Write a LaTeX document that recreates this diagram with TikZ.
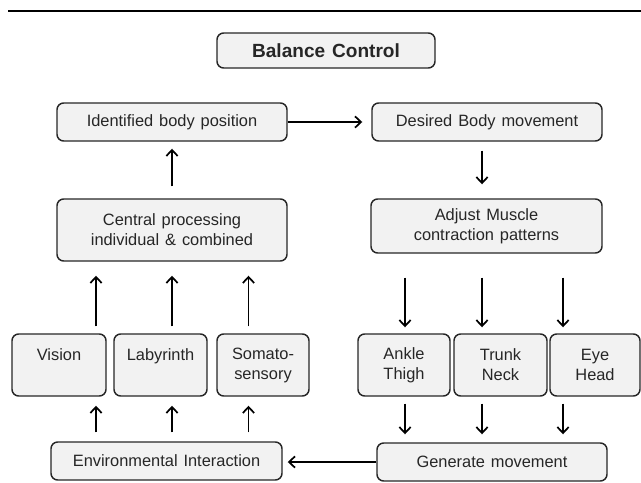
\documentclass[tikz,border=0pt]{standalone}
\usepackage{fontspec}
\setmainfont{Liberation Sans}[WordSpace={1.3}]
\usetikzlibrary{arrows.meta}
\tikzset{
  bx/.style={draw=black!85, fill=black!5, line width=1.1pt, rounded corners=5pt,
    inner sep=0pt, align=center, text=black!85,
    font=\fontsize{12.3}{15}\selectfont},
  arr/.style={draw=black, line width=1.3pt,
    -{Straight Barb[length=4.5pt,width=8.5pt,line width=1.3pt]}},
}
\begin{document}
\begin{tikzpicture}[x=0.75pt,y=-0.75pt]
\useasboundingbox (0,0) rectangle (641,482);
\coordinate (rl) at (8,11);
\coordinate (rr) at (641,11);
\draw[line width=1.6pt] (rl) -- (rr);

\node[bx, minimum width=163.5pt, minimum height=26.25pt,
  font=\fontsize{14.3}{17}\selectfont\bfseries] (bal) at (326,50.5) {Balance Control};

\node[bx, minimum width=172.5pt, minimum height=28.5pt] (ident) at (172,122) {Identified body position};
\node[bx, minimum width=172.5pt, minimum height=28.5pt] (des) at (487,122) {Desired Body movement};

\node[bx, minimum width=172.5pt, minimum height=46.5pt] (cent) at (172,230) {Central processing\\individual \& combined};
\node[bx, minimum width=173.25pt, minimum height=40.5pt] (adj) at (486.5,226) {Adjust Muscle\\contraction patterns};

\node[bx, minimum width=70.5pt, minimum height=46.5pt] (vis) at (59,365) {Vision\\~};
\node[bx, minimum width=69.75pt, minimum height=46.5pt] (lab) at (160.5,365) {Labyrinth\\~};
\node[bx, minimum width=69pt, minimum height=46.5pt] (som) at (263,365) {Somato-\\sensory};

\node[bx, minimum width=69pt, minimum height=46.5pt] (ank) at (404,365) {Ankle\\Thigh};
\node[bx, minimum width=69.75pt, minimum height=46.5pt] (trk) at (500.5,365) {Trunk\\Neck};
\node[bx, minimum width=67.5pt, minimum height=46.5pt] (eye) at (595,365) {Eye\\Head};

\node[bx, minimum width=173.25pt, minimum height=28.5pt] (env) at (166.5,461) {Environmental Interaction};
\node[bx, minimum width=172.5pt, minimum height=28.5pt] (gen) at (492,462) {Generate movement};

% x positions of arrow columns
\coordinate (s1) at (96,0);
\coordinate (s2) at (172,0);
\coordinate (s3) at (248.5,0);
\coordinate (e1) at (405,0);
\coordinate (e2) at (482,0);
\coordinate (e3) at (563,0);

\draw[arr, shorten >=6.75pt] (ident.east) -- (des.west);
\draw[arr, shorten <=9pt, shorten >=5.25pt] (cent.north) -- (ident.south);
\draw[arr, shorten <=6.75pt, shorten >=10.5pt] (des.south -| e2) -- (adj.north -| e2);

\draw[arr, shorten <=5.25pt, shorten >=10.5pt] (vis.north -| s1) -- (cent.south -| s1);
\draw[arr, shorten <=5.25pt, shorten >=10.5pt] (lab.north -| s2) -- (cent.south -| s2);
\draw[arr, shorten <=5.25pt, shorten >=10.5pt] (som.north -| s3) -- (cent.south -| s3);

\draw[arr, shorten <=18pt, shorten >=4.5pt] (adj.south -| e1) -- (ank.north -| e1);
\draw[arr, shorten <=18pt, shorten >=4.5pt] (adj.south -| e2) -- (trk.north -| e2);
\draw[arr, shorten <=18pt, shorten >=4.5pt] (adj.south -| e3) -- (eye.north -| e3);

\draw[arr, shorten <=6.75pt, shorten >=6.75pt] (env.north -| s1) -- (vis.south -| s1);
\draw[arr, shorten <=6.75pt, shorten >=6.75pt] (env.north -| s2) -- (lab.south -| s2);
\draw[arr, shorten <=6.75pt, shorten >=6.75pt] (env.north -| s3) -- (som.south -| s3);

\draw[arr, shorten <=5.25pt, shorten >=6pt] (ank.south -| e1) -- (gen.north -| e1);
\draw[arr, shorten <=5.25pt, shorten >=6pt] (trk.south -| e2) -- (gen.north -| e2);
\draw[arr, shorten <=5.25pt, shorten >=6pt] (eye.south -| e3) -- (gen.north -| e3);

\draw[arr, shorten >=3.75pt] (gen.west) -- (gen.west -| env.east);
\end{tikzpicture}
\end{document}
